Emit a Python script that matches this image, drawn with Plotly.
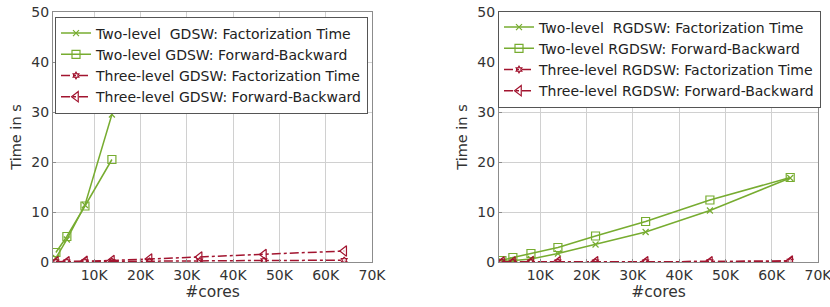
import plotly.graph_objects as go

cores = [1728, 4096, 8000, 13824, 21952, 32768, 46656, 64000]

# Left: GDSW
gdsw2_cores = [1728, 4096, 8000, 13824]
gdsw2_fact = [0.8, 4.5, 11.4, 29.5]
gdsw2_fb = [1.9, 5.1, 11.2, 20.5]
gdsw3_fact = [0.05, 0.07, 0.1, 0.15, 0.2, 0.25, 0.3, 0.35]
gdsw3_fb = [0.05, 0.08, 0.15, 0.3, 0.6, 1.0, 1.5, 2.2]

# Right: RGDSW
rgdsw2_fact = [0.1, 0.3, 0.6, 1.7, 3.5, 6.0, 10.3, 16.8]
rgdsw2_fb = [0.3, 0.9, 1.7, 2.9, 5.2, 8.1, 12.4, 16.9]
rgdsw3_fact = [0.03, 0.03, 0.04, 0.05, 0.05, 0.06, 0.08, 0.2]
rgdsw3_fb = [0.03, 0.03, 0.04, 0.05, 0.05, 0.06, 0.08, 0.2]

xtick_vals = [10000, 20000, 30000, 40000, 50000, 60000, 70000]
xtick_text = ["10K", "20K", "30K", "40K", "50K", "60K", "70K"]
ytick_vals = [0, 10, 20, 30, 40, 50]

GREEN = "#77AC30"
RED = "#A2142F"
FONT = "DejaVu Sans"
TXT = "#333333"

fig = go.Figure()

def add(x, y, name, color, dash, symbol, size, xa, ya, legend):
    fig.add_trace(go.Scatter(
        x=x, y=y, name=name, mode="lines+markers",
        line=dict(color=color, width=1.5, dash=dash),
        marker=dict(symbol=symbol, size=size, color=color,
                    line=dict(color=color, width=1.2)),
        xaxis=xa, yaxis=ya, legend=legend))

add(gdsw2_cores, gdsw2_fact, "Two-level\u00a0 GDSW: Factorization Time", GREEN, "solid", "x-thin-open", 6, "x", "y", "legend")
add(gdsw2_cores, gdsw2_fb, "Two-level GDSW: Forward-Backward", GREEN, "solid", "square-open", 8, "x", "y", "legend")
add(cores, gdsw3_fact, "Three-level GDSW: Factorization Time", RED, "dashdot", "hexagram-open", 5, "x", "y", "legend")
add(cores, gdsw3_fb, "Three-level GDSW: Forward-Backward", RED, "dashdot", "triangle-left-open", 9, "x", "y", "legend")

add(cores, rgdsw2_fact, "Two-level\u00a0 RGDSW: Factorization Time", GREEN, "solid", "x-thin-open", 6, "x2", "y2", "legend2")
add(cores, rgdsw2_fb, "Two-level RGDSW: Forward-Backward", GREEN, "solid", "square-open", 8, "x2", "y2", "legend2")
add(cores, rgdsw3_fact, "Three-level RGDSW: Factorization Time", RED, "dashdot", "hexagram-open", 5, "x2", "y2", "legend2")
add(cores, rgdsw3_fb, "Three-level RGDSW: Forward-Backward", RED, "dashdot", "triangle-left-open", 9, "x2", "y2", "legend2")

W, H = 830, 307

def px_x(v):
    return v / W

def px_y(v):
    return 1 - v / H

ydom = [px_y(262), px_y(12)]

xcommon = dict(range=[1100, 70000], tickvals=xtick_vals, ticktext=xtick_text,
               showgrid=True, gridcolor="#d0d0d0", gridwidth=1,
               showline=True, linecolor="#8c8c8c", linewidth=1, mirror=True,
               ticks="inside", ticklen=3, tickcolor="#8c8c8c",
               tickfont=dict(family=FONT, size=14, color=TXT),
               ticklabeloverflow="allow",
               title=dict(text="#cores", font=dict(family=FONT, size=15.5, color=TXT), standoff=0),
               zeroline=False, automargin=False)
ycommon = dict(range=[0, 50], tickvals=ytick_vals,
               showgrid=True, gridcolor="#d0d0d0", gridwidth=1,
               showline=True, linecolor="#8c8c8c", linewidth=1, mirror=True,
               ticks="inside", ticklen=3, tickcolor="#8c8c8c",
               tickfont=dict(family=FONT, size=14, color=TXT),
               ticklabeloverflow="allow",
               title=dict(text="Time in s", font=dict(family=FONT, size=14.5, color=TXT), standoff=6),
               zeroline=False, automargin=False)

legcommon = dict(bgcolor="white", bordercolor="#555555", borderwidth=1,
                 font=dict(family=FONT, size=14, color="#222222"),
                 xanchor="left", yanchor="middle", tracegroupgap=0,
                 itemwidth=30)

fig.update_layout(
    template="none",
    width=W, height=H,
    margin=dict(l=0, r=0, t=0, b=0, autoexpand=False),
    plot_bgcolor="white", paper_bgcolor="white",
    hovermode=False,
    xaxis=dict(domain=[px_x(53), px_x(372)], anchor="y", **xcommon),
    yaxis=dict(domain=ydom, anchor="x", **ycommon),
    xaxis2=dict(domain=[px_x(499), px_x(818)], anchor="y2", **xcommon),
    yaxis2=dict(domain=ydom, anchor="x2", **ycommon),
    legend=dict(x=px_x(55), y=px_y(65), **legcommon),
    legend2=dict(x=px_x(498), y=px_y(59), **legcommon),
)

# Remove the default 8px page margin so the figure fills the window exactly.
fig.write_html("out.html", config={"displayModeBar": False},
               post_script="document.body.style.margin='0px';")
